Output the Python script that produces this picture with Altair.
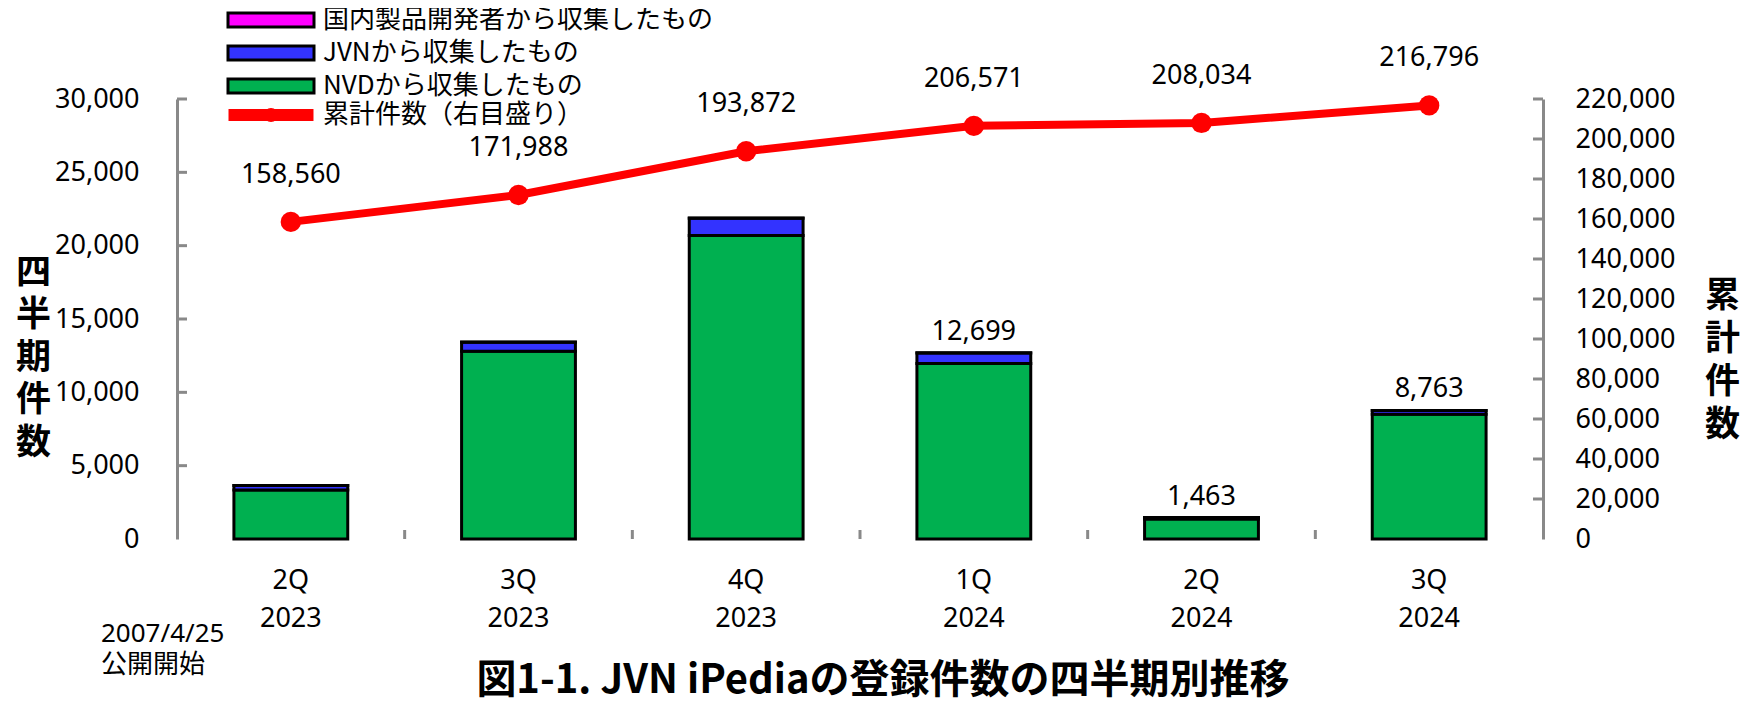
import altair as alt
import pandas as pd

# ---------------- data ----------------
quarters = ["2Q 2023", "3Q 2023", "4Q 2023", "1Q 2024", "2Q 2024", "3Q 2024"]
nvd_counts = [3340, 12800, 20700, 11965, 1360, 8500]
jvn_counts = [300, 620, 1175, 725, 100, 260]
domestic_counts = [10, 8, 9, 9, 3, 3]
cumulative = [158560, 171988, 193872, 206571, 208034, 216796]
bar_label_shown = [False, False, False, True, True, True]

bar_series = ["国内製品開発者から収集したもの", "JVNから収集したもの", "NVDから収集したもの"]
bar_colors = ["#FF00FF", "#3333FF", "#00B050"]
line_series = ["累計件数（右目盛り）"]
line_colors = ["#FF0000"]

left_axis_values = [0, 5000, 10000, 15000, 20000, 25000, 30000]
right_axis_values = [0, 20000, 40000, 60000, 80000, 100000, 120000,
                     140000, 160000, 180000, 200000, 220000]

title_text = "図1-1. JVN iPediaの登録件数の四半期別推移"
note_text = "2007/4/25\n公開開始"
left_title = ["四", "半", "期", "件", "数"]
right_title = ["累", "計", "件", "数"]

# ---------------- tables ----------------
stack_parts = [(bar_series[2], nvd_counts), (bar_series[1], jvn_counts),
               (bar_series[0], domestic_counts)]
bar_rows = []
for i, q in enumerate(quarters):
    for k, (name, vals) in enumerate(stack_parts):
        bar_rows.append({"quarter": q, "series": name, "count": vals[i], "stack_order": k})
bars_df = pd.DataFrame(bar_rows)

totals = [nvd_counts[i] + jvn_counts[i] + domestic_counts[i] for i in range(len(quarters))]
totals_df = pd.DataFrame({
    "quarter": quarters,
    "total": totals,
    "label": [f"{t:,}" if s else "" for t, s in zip(totals, bar_label_shown)],
})
line_df = pd.DataFrame({
    "quarter": quarters,
    "cum": cumulative,
    "series": line_series * len(quarters),
    "label": [f"{c:,}" for c in cumulative],
})
xlab_df = pd.DataFrame({"quarter": quarters,
                        "text": [q.replace(" ", "\n") for q in quarters]})
left_ticks_df = pd.DataFrame({"v": left_axis_values[1:]})
right_ticks_df = pd.DataFrame({"v": right_axis_values[1:]})
xticks_df = pd.DataFrame({"quarter": quarters[1:]})
title_df = pd.DataFrame({"t": [title_text]})
note_df = pd.DataFrame({"t": [note_text]})

# ---------------- styling ----------------
W, H = 1366, 440
GRAY = "#898989"
NUM_FONT = "Noto Sans"
JP_FONT = "Noto Sans CJK JP"
STEP = W / len(quarters)
HALF_GAP = STEP * 0.25  # half of the inner padding between bars

xscale = alt.Scale(domain=quarters, paddingInner=0.5, paddingOuter=0.25)
yl = alt.Scale(domain=[0, 30000], nice=False)
yr = alt.Scale(domain=[0, 220000], nice=False)

RECT_PATH = "M-6.143,-1H6.143V1H-6.143Z"
LINE_PATH = "M-6.07,0H6.07M-0.15,0A0.15,0.15 0 1 1 0.15,0A0.15,0.15 0 1 1 -0.15,0"

bar_legend = alt.Legend(
    orient="none", legendX=81, legendY=-92, title=None, direction="vertical",
    labelFont=JP_FONT, labelFontSize=26, labelColor="black", labelLimit=800,
    labelOffset=39, rowPadding=7, symbolSize=196, padding=0,
    symbolType=RECT_PATH, symbolStrokeColor="black", symbolStrokeWidth=3,
    symbolOpacity=1,
)
line_legend = alt.Legend(
    orient="none", legendX=81, legendY=3, title=None, direction="vertical",
    labelFont=JP_FONT, labelFontSize=26, labelColor="black", labelLimit=800,
    labelOffset=39, symbolSize=196, padding=0,
    symbolType=LINE_PATH, symbolStrokeWidth=12, symbolOpacity=1,
)

x_axis = alt.Axis(title=None, labels=False, ticks=False, tickSize=0,
                  domainColor=GRAY, domainWidth=3, grid=False)
y_axis_left = alt.Axis(orient="left", values=left_axis_values, format=",d",
                       labelFont=NUM_FONT, labelFontSize=27, labelColor="black",
                       labelPadding=38, labelOverlap=False, ticks=False, tickSize=0,
                       domainColor=GRAY, domainWidth=3, grid=False, title=left_title,
                       titleAngle=0, titleX=-144, titleY=156, titleAlign="center",
                       titleBaseline="top", titleFont=JP_FONT, titleFontSize=35,
                       titleFontWeight="bold", titleLineHeight=42.5, titleColor="black")
y_axis_right = alt.Axis(orient="right", values=right_axis_values, format=",d",
                        labelFont=NUM_FONT, labelFontSize=27, labelColor="black",
                        labelAlign="left", labelPadding=32, labelOverlap=False,
                        ticks=False, tickSize=0, domainColor=GRAY, domainWidth=3,
                        grid=False, title=right_title, titleAngle=0, titleX=179,
                        titleY=179, titleAlign="center", titleBaseline="top",
                        titleFont=JP_FONT, titleFontSize=35, titleFontWeight="bold",
                        titleLineHeight=43, titleColor="black")

# ---------------- bars (left scale) ----------------
bars = alt.Chart(bars_df).mark_bar(stroke="black", strokeWidth=3).encode(
    x=alt.X("quarter:N", scale=xscale, axis=x_axis),
    y=alt.Y("count:Q", stack="zero", scale=yl, axis=y_axis_left),
    color=alt.Color("series:N", scale=alt.Scale(domain=bar_series, range=bar_colors),
                    legend=bar_legend),
    order=alt.Order("stack_order:Q", sort="ascending"),
)
bar_text = alt.Chart(totals_df).mark_text(font=NUM_FONT, fontSize=27, dy=-21,
                                          baseline="middle", color="black").encode(
    x=alt.X("quarter:N", scale=xscale, axis=None),
    y=alt.Y("total:Q", scale=yl, axis=None),
    text="label:N",
)
x_labels = alt.Chart(xlab_df).mark_text(font=NUM_FONT, fontSize=27, baseline="middle",
                                        align="center", lineBreak="\n", lineHeight=38,
                                        color="black").encode(
    x=alt.X("quarter:N", scale=xscale, axis=None),
    y=alt.value(H + 42),
    text="text:N",
)
left_ticks = alt.Chart(left_ticks_df).mark_rule(color=GRAY, strokeWidth=3).encode(
    y=alt.Y("v:Q", scale=yl, axis=None), x=alt.value(0), x2=alt.value(10))
x_ticks = alt.Chart(xticks_df).mark_rule(color=GRAY, strokeWidth=3,
                                         xOffset=-HALF_GAP).encode(
    x=alt.X("quarter:N", scale=xscale, axis=None, bandPosition=0),
    y=alt.value(H), y2=alt.value(H - 9))
title_mark = alt.Chart(title_df).mark_text(font=JP_FONT, fontSize=40, fontWeight="bold",
                                           align="center", baseline="middle",
                                           color="black").encode(
    x=alt.value(706), y=alt.value(582), text="t:N")
note_mark = alt.Chart(note_df).mark_text(font="Noto Sans, Noto Sans CJK JP", fontSize=26,
                                         align="left", baseline="middle", lineBreak="\n",
                                         lineHeight=31, color="black").encode(
    x=alt.value(-76), y=alt.value(535), text="t:N")

# ---------------- cumulative line (right scale) ----------------
line = alt.Chart(line_df).mark_line(strokeWidth=8).encode(
    x=alt.X("quarter:N", scale=xscale, axis=None),
    y=alt.Y("cum:Q", scale=yr, axis=y_axis_right),
    stroke=alt.Stroke("series:N", scale=alt.Scale(domain=line_series, range=line_colors),
                      legend=line_legend),
)
points = alt.Chart(line_df).mark_circle(size=415, opacity=1, color=line_colors[0]).encode(
    x=alt.X("quarter:N", scale=xscale, axis=None),
    y=alt.Y("cum:Q", scale=yr, axis=None),
)
line_text = alt.Chart(line_df).mark_text(font=NUM_FONT, fontSize=27, dy=-47,
                                         baseline="middle", color="black").encode(
    x=alt.X("quarter:N", scale=xscale, axis=None),
    y=alt.Y("cum:Q", scale=yr, axis=None),
    text="label:N",
)
right_ticks = alt.Chart(right_ticks_df).mark_rule(color=GRAY, strokeWidth=3).encode(
    y=alt.Y("v:Q", scale=yr, axis=None), x=alt.value(W - 10), x2=alt.value(W))

chart = alt.layer(
    bars, bar_text, x_labels, left_ticks, x_ticks, title_mark, note_mark,
    line, points, line_text, right_ticks,
).resolve_scale(y="independent").properties(
    width=W, height=H,
    autosize=alt.AutoSizeParams(type="none"),
    padding={"left": 169, "top": 91, "right": 211, "bottom": 176},
).configure_view(stroke=None)

chart.save("out.html", embed_options={"renderer": "svg", "actions": False})
